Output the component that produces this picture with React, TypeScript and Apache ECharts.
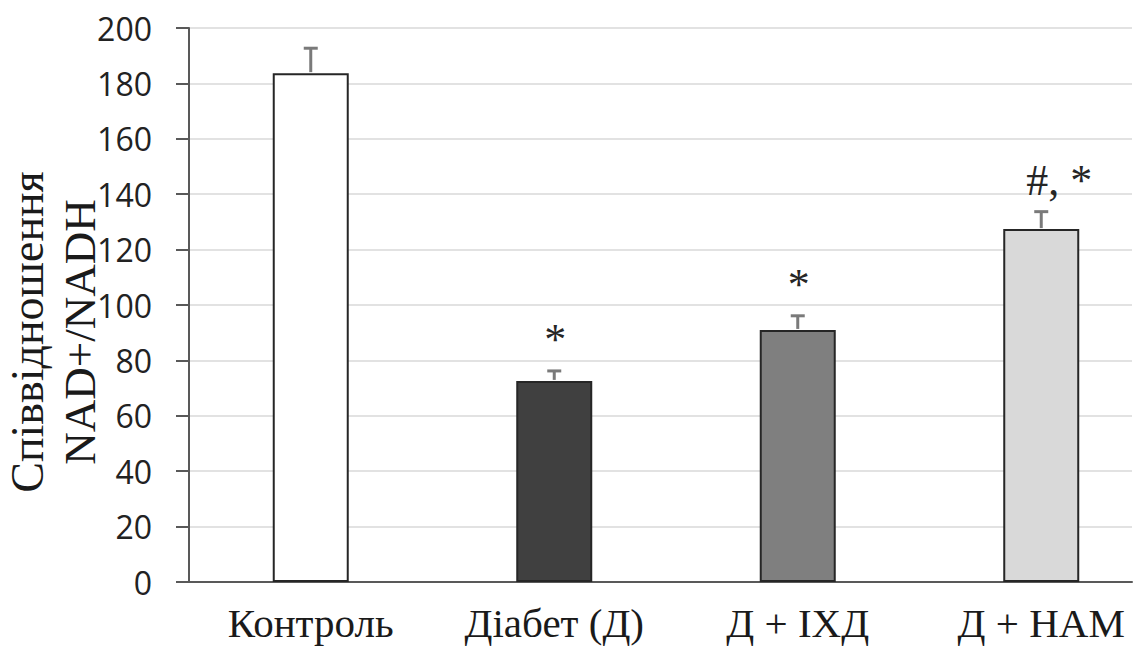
import React, { useEffect, useRef } from "react";
import * as echarts from "echarts";

// Groups, mean ratio values and upper error (SEM) for each group
const categories = ["Контроль", "Діабет (Д)", "Д + ІХД", "Д + НАМ"];
const ratioValues = [183.7, 72.6, 91.0, 127.4];
const ratioErrors = [9.0, 3.6, 5.1, 6.3];
const significance = ["", "*", "*", "#, *"];
const yTicks = [0, 20, 40, 60, 80, 100, 120, 140, 160, 180, 200];

const barFills = ["#ffffff", "#404040", "#7f7f7f", "#d9d9d9"];

const SERIF = "'Liberation Serif', 'Times New Roman', serif";
const SANS = "'Open Sans', 'Liberation Sans', sans-serif";

export default function App() {
  const ref = useRef<HTMLDivElement>(null);

  useEffect(() => {
    document.body.style.margin = "0";
    if (!ref.current) return;
    const chart = echarts.init(ref.current, null, { renderer: "svg" });

    const barData = categories.map((_, i) => ({
      value: [i, ratioValues[i]],
      itemStyle: { color: barFills[i] },
    }));

    const errorData = categories.map((_, i) => [
      i,
      ratioValues[i],
      ratioValues[i] + ratioErrors[i],
      significance[i],
    ]);

    chart.setOption({
      animation: false,
      backgroundColor: "#ffffff",
      grid: { left: 189, right: 10, top: 28, bottom: 66, containLabel: false },
      xAxis: {
        type: "value",
        min: -0.5,
        max: 3.3727,
        splitLine: { show: false },
        axisTick: { show: false },
        axisLine: { show: true, onZero: false, lineStyle: { color: "#595959", width: 2 } },
        axisLabel: {
          customValues: [0, 1, 2, 3],
          formatter: (v: number) => categories[Math.round(v)] ?? "",
          fontFamily: SERIF,
          fontSize: 41,
          color: "#1a1a1a",
          margin: 20,
        },
      },
      yAxis: {
        type: "value",
        min: yTicks[0],
        max: yTicks[yTicks.length - 1],
        interval: 20,
        axisLine: { show: true, onZero: false, lineStyle: { color: "#595959", width: 2 } },
        axisTick: { show: true, length: 13, lineStyle: { color: "#595959", width: 2 } },
        splitLine: { show: true, lineStyle: { color: "#d9d9d9", width: 1.5 } },
        axisLabel: {
          fontFamily: SANS,
          fontSize: 32,
          color: "#222222",
          margin: 37,
        },
      },
      graphic: [
        {
          type: "text",
          x: 27,
          y: 332,
          rotation: Math.PI / 2,
          style: {
            text: "Співвідношення",
            font: `46px ${SERIF}`,
            fill: "#1a1a1a",
            align: "center",
            verticalAlign: "middle",
          },
        },
        {
          type: "text",
          x: 80,
          y: 332,
          rotation: Math.PI / 2,
          style: {
            text: "NAD+/NADH",
            font: `45px ${SERIF}`,
            fill: "#1a1a1a",
            align: "center",
            verticalAlign: "middle",
          },
        },
      ],
      series: [
        {
          type: "bar",
          data: barData,
          barWidth: 76,
          itemStyle: { borderColor: "#262626", borderWidth: 2 },
          z: 2,
        },
        {
          type: "custom",
          data: errorData,
          z: 3,
          renderItem: (params: any, api: any) => {
            const x = api.value(0);
            const base = api.coord([x, api.value(1)]);
            const top = api.coord([x, api.value(2)]);
            const label = String(errorData[params.dataIndex][3]);
            const half = 7;
            const shift = label.length > 1 ? 18 : 1;
            return {
              type: "group",
              children: [
                {
                  type: "line",
                  shape: { x1: base[0], y1: base[1] - 1, x2: top[0], y2: top[1] },
                  style: { stroke: "#7a7a7a", lineWidth: 3 },
                },
                {
                  type: "line",
                  shape: { x1: top[0] - half, y1: top[1], x2: top[0] + half, y2: top[1] },
                  style: { stroke: "#7a7a7a", lineWidth: 3 },
                },
                {
                  type: "text",
                  x: top[0] + shift,
                  y: top[1] - 9,
                  style: {
                    text: label,
                    font: `44px ${SERIF}`,
                    fill: "#262626",
                    align: "center",
                    verticalAlign: "bottom",
                  },
                },
              ],
            };
          },
        },
      ],
    });

    return () => chart.dispose();
  }, []);

  return <div ref={ref} style={{ width: 1142, height: 648 }} />;
}
